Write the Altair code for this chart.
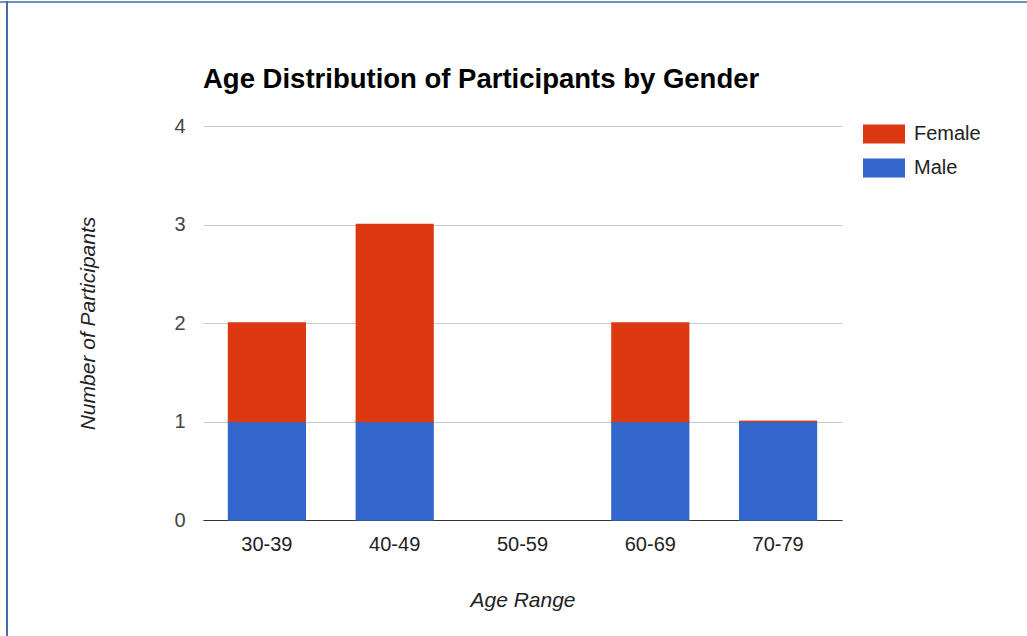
import altair as alt
import pandas as pd

# ---- data ----
age_ranges = ["30-39", "40-49", "50-59", "60-69", "70-79"]
female_counts = [1, 2, None, 1, 0]
male_counts = [1, 1, None, 1, 1]
genders = ["Female", "Male"]
gender_colors = ["#dc3912", "#3366cc"]
y_ticks = [0, 1, 2, 3, 4]

rows = []
for age, f, m in zip(age_ranges, female_counts, male_counts):
    if m is not None:
        rows.append({"age": age, "gender": "Male", "count": m, "rank": 0})
    if f is not None:
        rows.append({"age": age, "gender": "Female", "count": f, "rank": 1})
df = pd.DataFrame(rows)

FONT = "Liberation Sans"
W, H = 639, 394
LEFT, TOP = 203, 126
TOTAL_W, TOTAL_H = 1027, 636

color_scale = alt.Scale(domain=genders, range=gender_colors)

bars = alt.Chart(df).mark_bar(strokeWidth=1.5).encode(
    x=alt.X(
        "age:N",
        scale=alt.Scale(domain=age_ranges, paddingInner=0.4, paddingOuter=0.2),
        axis=alt.Axis(
            title="Age Range", labelAngle=0, ticks=False, labelPadding=14,
            labelFont=FONT, labelFontSize=20, labelColor="#222222",
            titleFont=FONT, titleFontSize=21, titleFontStyle="italic",
            titleFontWeight="normal", titleColor="#222222", titlePadding=35,
            domainColor="#333333", domainWidth=1, grid=False,
        ),
    ),
    y=alt.Y(
        "count:Q", stack="zero",
        scale=alt.Scale(domain=[0, 4], nice=False),
        axis=alt.Axis(
            title="Number of Participants", values=y_ticks, format="d",
            ticks=False, domain=False, labelPadding=18,
            labelFont=FONT, labelFontSize=20, labelColor="#444444",
            titleFont=FONT, titleFontSize=21, titleFontStyle="italic",
            titleFontWeight="normal", titleColor="#222222", titlePadding=75,
            gridColor="#cccccc", gridWidth=1,
        ),
    ),
    color=alt.Color(
        "gender:N", scale=color_scale,
        legend=alt.Legend(
            title=None, orient="none", legendX=660, legendY=-13,
            symbolType="M-1,-0.45H1V0.45H-1Z", symbolSize=1764,
            symbolStrokeWidth=0, symbolOpacity=1,
            labelFont=FONT, labelFontSize=20, labelColor="#222222",
            labelOffset=9, rowPadding=3,
        ),
    ),
    stroke=alt.Color("gender:N", scale=color_scale, legend=None),
    order=alt.Order("rank:Q"),
)

# title as text placed above the plot area
title_df = pd.DataFrame({"t": ["Age Distribution of Participants by Gender"]})
title = alt.Chart(title_df).mark_text(
    font=FONT, fontSize=27.5, fontWeight="bold", color="#000000",
    align="left", baseline="alphabetic",
).encode(text="t:N", x=alt.value(0), y=alt.value(-38))

# thin frame of the screenshot
frame_df = pd.DataFrame({"d": [0]})
top_border = alt.Chart(frame_df).mark_rule(color="#6f93b8", strokeWidth=2).encode(
    x=alt.value(-LEFT), x2=alt.value(TOTAL_W - LEFT), y=alt.value(-TOP + 2)
)
left_border = alt.Chart(frame_df).mark_rule(color="#3f6fa5", strokeWidth=2).encode(
    x=alt.value(-LEFT + 7), y=alt.value(-TOP + 1), y2=alt.value(TOTAL_H - TOP)
)

chart = alt.layer(top_border, left_border, bars, title).properties(
    width=W, height=H,
    background="white",
    autosize=alt.AutoSizeParams(type="none"),
    padding={"left": LEFT, "top": TOP, "right": TOTAL_W - LEFT - W, "bottom": TOTAL_H - TOP - H},
).configure_view(strokeWidth=0)

chart.save("out.html", embed_options={"renderer": "svg", "actions": False})
